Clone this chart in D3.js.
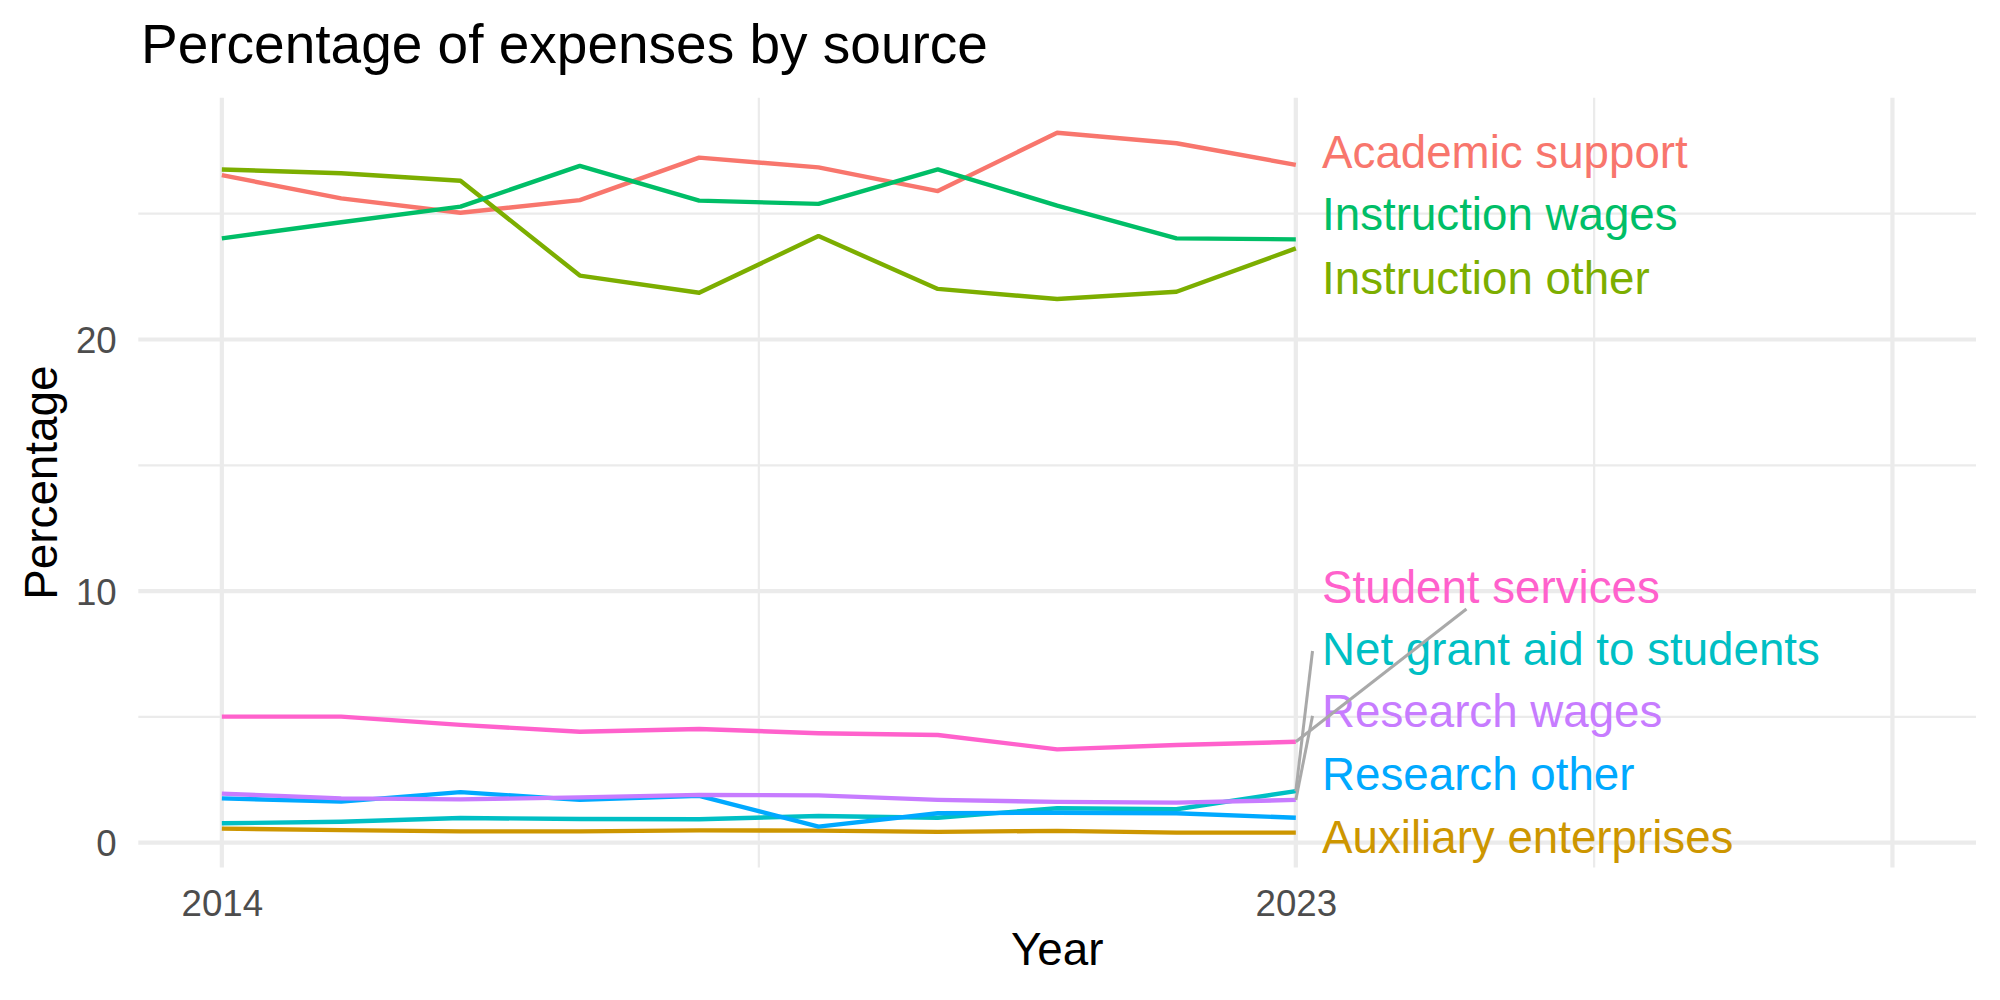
<!DOCTYPE html>
<html>
<head>
<meta charset="utf-8">
<script src="https://cdn.jsdelivr.net/npm/d3@7"></script>
<style>
  body { margin: 0; background: #ffffff; }
  text { font-family: "Liberation Sans", Arial, Helvetica, sans-serif; }
</style>
</head>
<body>
<div id="chart"></div>
<script>
// values
var years = [2014, 2015, 2016, 2017, 2018, 2019, 2020, 2021, 2022, 2023];

var seriesNames = ["Academic support", "Auxiliary enterprises", "Instruction other", "Instruction wages",
  "Net grant aid to students", "Research other", "Research wages", "Student services"];

var academicSupport      = [26.53, 25.61, 25.04, 25.54, 27.23, 26.84, 25.90, 28.22, 27.80, 26.94];
var auxiliaryEnterprises = [0.56, 0.50, 0.45, 0.45, 0.49, 0.48, 0.43, 0.47, 0.40, 0.40];
var instructionOther     = [26.76, 26.61, 26.31, 22.54, 21.86, 24.11, 22.01, 21.61, 21.90, 23.62];
var instructionWages     = [24.02, 24.66, 25.28, 26.90, 25.52, 25.39, 26.76, 25.32, 24.02, 23.98];
var netGrantAid          = [0.77, 0.83, 0.98, 0.94, 0.93, 1.06, 0.99, 1.37, 1.33, 2.05];
var researchOther        = [1.76, 1.63, 2.01, 1.70, 1.86, 0.64, 1.17, 1.19, 1.17, 0.99];
var researchWages        = [1.95, 1.76, 1.72, 1.80, 1.90, 1.88, 1.70, 1.62, 1.59, 1.70];
var studentServices      = [5.01, 5.01, 4.68, 4.41, 4.52, 4.35, 4.28, 3.71, 3.88, 4.01];

var seriesValues = [academicSupport, auxiliaryEnterprises, instructionOther, instructionWages,
  netGrantAid, researchOther, researchWages, studentServices];

var xBreaks = [2014, 2023, 2028];
var xTickLabels = ["2014", "2023", ""];
var xMinor = [2018.5, 2025.5];
var yBreaks = [0, 10, 20];
var yMinor = [5, 15, 25];

//ggplot hue palette, 8 levels
var cols = ["#F8766D", "#CD9600", "#7CAE00", "#00BE67", "#00BFC4", "#00A9FF", "#C77CFF", "#FF61CC"];

//repelled label placement (data units), as ggrepel left them
var labelYear = 2023.22;
var labelValue = [27.49, 0.23, 22.46, 24.99, 7.72, 2.75, 5.27, 10.18];
//leader segments: series index -> end point in data units
var segmentEnds = {7: [2024.43, 9.29], 4: [2023.14, 7.62], 6: [2023.14, 5.04]};

var W = 2000, H = 1000;
var panel = {left: 138.3, right: 1976, top: 97.7, bottom: 867.6};

var svg = d3.select("#chart").append("svg").attr("width", W).attr("height", H)
  .style("background", "#ffffff");

var x = d3.scaleLinear().domain([2013.3, 2028.7]).range([panel.left, panel.right]);

//y limits: data range with 5% expansion
var allVals = d3.merge(seriesValues);
var ext = d3.extent(allVals);
var pad = (ext[1] - ext[0]) * 0.05;
var y = d3.scaleLinear().domain([ext[0] - pad, ext[1] + pad]).range([panel.bottom, panel.top]);

var grid = svg.append("g");
grid.selectAll("line.yminor").data(yMinor).enter().append("line")
  .attr("x1", panel.left).attr("x2", panel.right)
  .attr("y1", function(d){return y(d)}).attr("y2", function(d){return y(d)})
  .attr("stroke", "#EBEBEB").attr("stroke-width", 2.2);
grid.selectAll("line.xminor").data(xMinor).enter().append("line")
  .attr("y1", panel.top).attr("y2", panel.bottom)
  .attr("x1", function(d){return x(d)}).attr("x2", function(d){return x(d)})
  .attr("stroke", "#EBEBEB").attr("stroke-width", 2.2);
grid.selectAll("line.ymajor").data(yBreaks).enter().append("line")
  .attr("x1", panel.left).attr("x2", panel.right)
  .attr("y1", function(d){return y(d)}).attr("y2", function(d){return y(d)})
  .attr("stroke", "#EBEBEB").attr("stroke-width", 4.2);
grid.selectAll("line.xmajor").data(xBreaks).enter().append("line")
  .attr("y1", panel.top).attr("y2", panel.bottom)
  .attr("x1", function(d){return x(d)}).attr("x2", function(d){return x(d)})
  .attr("stroke", "#EBEBEB").attr("stroke-width", 4.2);

//axes, no domain line, no ticks (theme_minimal)
var xAxis = d3.axisBottom(x).tickValues(xBreaks).tickSize(0).tickPadding(0)
  .tickFormat(function(d, i){return xTickLabels[i]});
var gx = svg.append("g").attr("transform", "translate(0," + panel.bottom + ")").call(xAxis);
gx.select(".domain").remove();
gx.selectAll("text").attr("y", 48.5).attr("dy", 0)
  .attr("font-size", 36.7).attr("fill", "#4D4D4D").attr("font-family", "Liberation Sans, Arial, sans-serif");

var yAxis = d3.axisLeft(y).tickValues(yBreaks).tickSize(0).tickPadding(21.6);
var gy = svg.append("g").attr("transform", "translate(" + panel.left + ",0)").call(yAxis);
gy.select(".domain").remove();
gy.selectAll("text").attr("dy", "0.36em")
  .attr("font-size", 36.7).attr("fill", "#4D4D4D").attr("font-family", "Liberation Sans, Arial, sans-serif");

var line = d3.line()
  .x(function(d, i){return x(years[i])})
  .y(function(d){return y(d)});

svg.append("g").selectAll("path.series").data(seriesValues).enter().append("path")
  .classed("series", true)
  .attr("d", line)
  .attr("fill", "none")
  .attr("stroke", function(d, i){return cols[i]})
  .attr("stroke-width", 4.4)
  .attr("stroke-linejoin", "round");

//labels with leader segments, drawn label by label
var labels = svg.append("g");
seriesValues.forEach(function(vals, i){
  var seg = segmentEnds[i];
  if(seg){
    labels.append("line")
      .attr("x1", x(years[years.length - 1])).attr("y1", y(vals[vals.length - 1]))
      .attr("x2", x(seg[0])).attr("y2", y(seg[1]))
      .attr("stroke", "#A9A9A9").attr("stroke-width", 3);
  }
  labels.append("text")
    .attr("x", x(labelYear)).attr("y", y(labelValue[i])).attr("dy", "0.36em")
    .attr("font-size", 45.7).attr("fill", cols[i])
    .text(seriesNames[i]);
});

svg.append("text").attr("x", 141).attr("y", 63)
  .attr("font-size", 55).attr("fill", "#000000")
  .text("Percentage of expenses by source");

svg.append("text")
  .attr("x", (panel.left + panel.right) / 2).attr("y", 965)
  .attr("text-anchor", "middle").attr("font-size", 45.8).attr("fill", "#000000")
  .text("Year");

svg.append("text")
  .attr("transform", "translate(56.7," + ((panel.top + panel.bottom) / 2) + ") rotate(-90)")
  .attr("text-anchor", "middle").attr("font-size", 45.8).attr("fill", "#000000")
  .text("Percentage");
</script>
</body>
</html>
